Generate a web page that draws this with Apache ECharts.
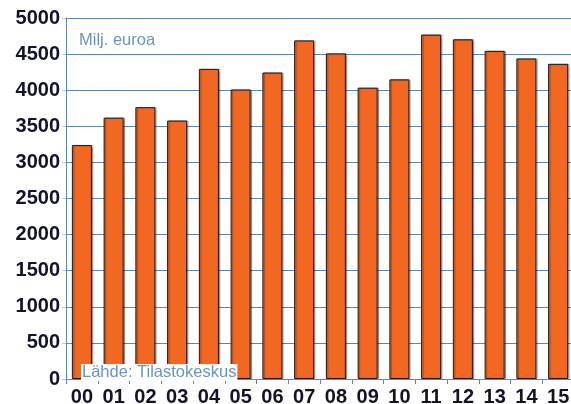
<!DOCTYPE html>
<html>
<head>
<meta charset="utf-8">
<script src="https://cdn.jsdelivr.net/npm/echarts@6/dist/echarts.min.js"></script>
<style>
  html, body { margin: 0; padding: 0; background: #fff; }
  #chart { width: 571px; height: 404px; }
</style>
</head>
<body>
<div id="chart"></div>
<script>
// vuodet ja arvot (milj. euroa)
const years = ['00', '01', '02', '03', '04', '05', '06', '07', '08', '09', '10', '11', '12', '13', '14', '15'];
const values = [3240, 3620, 3765, 3580, 4295, 4010, 4245, 4690, 4510, 4035, 4150, 4770, 4705, 4545, 4440, 4365];
const yTicks = [0, 500, 1000, 1500, 2000, 2500, 3000, 3500, 4000, 4500, 5000];

const gridColor = '#5b87bd';
const textBlue = '#6a93c4';

let myChart = echarts.init(document.getElementById('chart'));
myChart.setOption({
  animation: false,
  grid: { left: 66, right: -3, top: 18, bottom: 25, outerBoundsMode: 'none', containLabel: false },
  xAxis: {
    type: 'category',
    data: years,
    axisLine: { lineStyle: { color: gridColor, width: 1 } },
    axisTick: { show: true, length: 5, lineStyle: { color: gridColor } },
    axisLabel: {
      color: '#12122a',
      fontFamily: 'Liberation Sans',
      fontWeight: 'bold',
      fontSize: 20,
      margin: 8
    }
  },
  yAxis: {
    type: 'value',
    min: yTicks[0],
    max: yTicks[yTicks.length - 1],
    interval: 500,
    axisLine: { show: true, lineStyle: { color: gridColor, width: 1 } },
    axisTick: { show: true, length: 4, lineStyle: { color: '#b8c8dc' } },
    splitLine: { lineStyle: { color: gridColor, width: 1 } },
    axisLabel: {
      color: '#12122a',
      fontFamily: 'Liberation Sans',
      fontWeight: 'bold',
      fontSize: 20,
      margin: 6,
      formatter: (v) => String(v)
    }
  },
  series: [{
    type: 'bar',
    data: values,
    barWidth: '63%',
    itemStyle: {
      color: '#f26722',
      borderColor: '#1a1a1a',
      borderWidth: 1,
      shadowColor: 'rgba(0,0,0,0.3)',
      shadowOffsetX: 1.5,
      shadowOffsetY: 0,
      shadowBlur: 1
    }
  }],
  graphic: [
    {
      type: 'text',
      left: 79,
      top: 32,
      style: {
        text: 'Milj. euroa',
        fill: textBlue,
        font: '16.5px "Liberation Sans"'
      }
    },
    {
      type: 'text',
      left: 81,
      top: 364,
      z: 100,
      style: {
        text: 'Lähde: Tilastokeskus',
        fill: textBlue,
        font: '16.5px "Liberation Sans"',
        backgroundColor: '#fff',
        padding: [0, 1, 0, 1]
      }
    }
  ]
});
window.addEventListener('resize', () => myChart.resize());
</script>
</body>
</html>
